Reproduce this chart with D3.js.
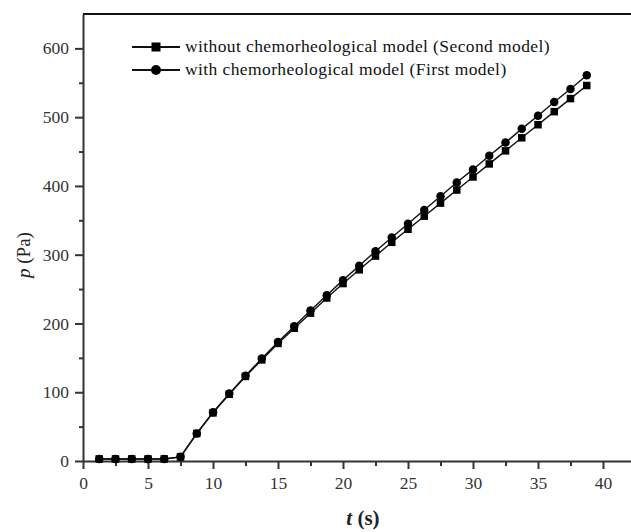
<!DOCTYPE html>
<html>
<head>
<meta charset="utf-8">
<script src="https://cdn.jsdelivr.net/npm/d3@7"></script>
<style>
  body { margin: 0; background: #fff; }
  text { font-family: "Liberation Serif", "DejaVu Serif", serif; }
</style>
</head>
<body>
<svg id="chart"></svg>
<script>
// time points (s)
const times = [1.25, 2.5, 3.75, 5, 6.25, 7.5, 8.75, 10, 11.25, 12.5, 13.75, 15, 16.25, 17.5, 18.75,
    20, 21.25, 22.5, 23.75, 25, 26.25, 27.5, 28.75, 30, 31.25, 32.5, 33.75, 35, 36.25, 37.5, 38.75];

// without chemorheological model (Second model)
const secondModel = [3, 3, 3, 3, 3, 6, 40, 70, 97, 123, 147, 171, 193, 215, 237,
    258, 278, 298, 318, 337, 356, 375, 394, 413, 432, 451, 470, 489, 508, 527, 546];

// with chemorheological model (First model)
const firstModel = [3, 3, 3, 3, 3, 6, 40, 71, 98, 124, 149, 173, 196, 219, 241,
    263, 284, 305, 325, 345, 365, 385, 405, 424, 444, 463, 483, 502, 522, 541, 561];

const xTicks = [0, 5, 10, 15, 20, 25, 30, 35, 40];
const yTicks = [0, 100, 200, 300, 400, 500, 600];
const legendLabels = ["without chemorheological model (Second model)", "with chemorheological model (First model)"];

const width = 631, height = 532;
const margin = { top: 14, left: 83, bottom: 71 };

const svg = d3.select("#chart").attr("width", width).attr("height", height);

const x = d3.scaleLinear().domain([0, 43]).range([margin.left, margin.left + 13 * 43]);
const y = d3.scaleLinear().domain([0, 650]).range([height - margin.bottom, margin.top]);

// frame top line
svg.append("line")
    .attr("x1", x(0)).attr("x2", x(43))
    .attr("y1", y(650)).attr("y2", y(650))
    .attr("stroke", "#111").attr("stroke-width", 2);

// minor ticks
const xMinor = d3.range(2.5, 43, 5);
const yMinor = d3.range(50, 650, 100);

svg.append("g")
    .attr("transform", `translate(0, ${y(0)})`)
    .call(d3.axisBottom(x).tickValues(xTicks).tickSize(8).tickSizeOuter(0).tickPadding(8));
svg.append("g")
    .attr("transform", `translate(0, ${y(0)})`)
    .call(d3.axisBottom(x).tickValues(xMinor).tickSize(5).tickFormat(""))
    .call(g => g.select(".domain").remove());

svg.append("g")
    .attr("transform", `translate(${x(0)}, 0)`)
    .call(d3.axisLeft(y).tickValues(yTicks).tickSize(8).tickSizeOuter(0).tickPadding(6));
svg.append("g")
    .attr("transform", `translate(${x(0)}, 0)`)
    .call(d3.axisLeft(y).tickValues(yMinor).tickSize(4).tickFormat(""))
    .call(g => g.select(".domain").remove());

svg.selectAll(".domain").attr("stroke", "#333").attr("stroke-width", 2);
svg.selectAll(".tick line").attr("stroke", "#333").attr("stroke-width", 2);
svg.selectAll(".tick text")
    .style("font-family", "Liberation Serif, serif")
    .style("font-size", "17.5px")
    .attr("fill", "#333");

// series
const series = [
    { name: legendLabels[0], values: secondModel, shape: "square" },
    { name: legendLabels[1], values: firstModel, shape: "circle" }
];

const line = d3.line().x(d => x(d[0])).y(d => y(d[1]));

function drawMarker(g, shape, cx, cy, s) {
    if (shape === "square") {
        g.append("rect")
            .attr("x", cx - s / 2).attr("y", cy - s / 2)
            .attr("width", s).attr("height", s)
            .attr("fill", "#000");
    } else {
        g.append("circle")
            .attr("cx", cx).attr("cy", cy).attr("r", s / 2 + 0.5)
            .attr("fill", "#000");
    }
}

series.forEach(s => {
    const pts = times.map((t, i) => [t, s.values[i]]);
    svg.append("path")
        .datum(pts)
        .attr("d", line)
        .attr("fill", "none")
        .attr("stroke", "#111")
        .attr("stroke-width", 1.4);
    const g = svg.append("g");
    pts.forEach(p => drawMarker(g, s.shape, x(p[0]), y(p[1]), 7.5));
});

// legend
const legend = svg.append("g").attr("transform", "translate(132, 47)");
series.forEach((s, i) => {
    const row = legend.append("g").attr("transform", `translate(0, ${i * 23})`);
    row.append("line")
        .attr("x1", 0).attr("x2", 48).attr("y1", 0).attr("y2", 0)
        .attr("stroke", "#111").attr("stroke-width", 2);
    drawMarker(row, s.shape, 24, 0, 9);
    row.append("text")
        .attr("x", 53).attr("y", 5)
        .style("font-size", "17.5px")
        .style("letter-spacing", "0.4px")
        .attr("fill", "#111")
        .text(s.name);
});

// axis titles
svg.append("text")
    .attr("x", 363).attr("y", 525)
    .attr("text-anchor", "middle")
    .style("font-size", "21px")
    .style("font-weight", "bold")
    .attr("fill", "#222")
    .call(t => {
        t.append("tspan").style("font-style", "italic").text("t");
        t.append("tspan").text(" (s)");
    });

svg.append("text")
    .attr("transform", "translate(30, 255) rotate(-90)")
    .attr("text-anchor", "middle")
    .style("font-size", "19px")
    .attr("fill", "#222")
    .call(t => {
        t.append("tspan").style("font-style", "italic").text("p");
        t.append("tspan").text(" (Pa)");
    });
</script>
</body>
</html>
